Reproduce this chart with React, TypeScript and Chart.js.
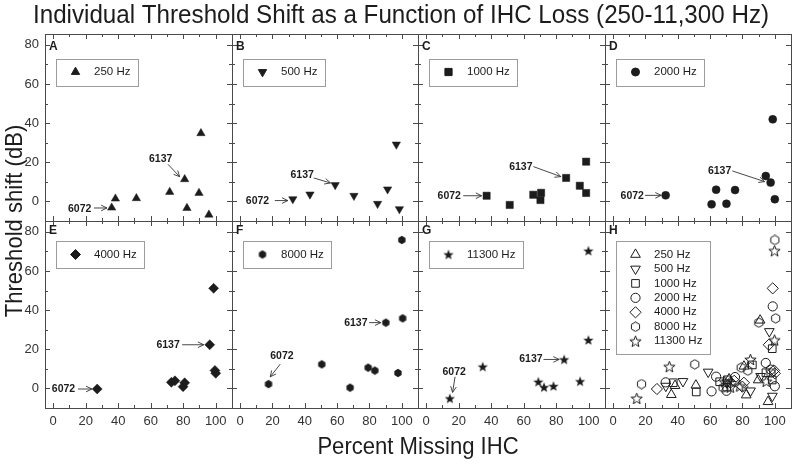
import React, { useEffect, useRef } from 'react';
import { Chart, registerables } from 'chart.js';
import { drawPoint } from 'chart.js/helpers';

Chart.register(...registerables);

// ---------------- data ----------------
const TITLE = 'Individual Threshold Shift as a Function of IHC Loss (250-11,300 Hz)';
const Y_TITLE = 'Threshold shift (dB)';
const X_TITLE = 'Percent Missing IHC';
const X_TICKS = [0, 20, 40, 60, 80, 100];
const Y_TICKS = [0, 20, 40, 60, 80];
const PANEL_LETTERS = ['A', 'B', 'C', 'D', 'E', 'F', 'G', 'H'];
const FREQ_LABELS = ['250 Hz', '500 Hz', '1000 Hz', '2000 Hz', '4000 Hz', '8000 Hz', '11300 Hz'];

const X_250 = [36.0, 38.3, 51.2, 71.7, 80.9, 82.3, 89.7, 90.9, 95.8];
const Y_250 = [-3.2, 1.4, 1.6, 4.8, 11.3, -3.4, 4.3, 34.8, -6.8];
const X_500 = [32.6, 43.2, 58.8, 70.4, 85.0, 91.2, 96.6, 98.5];
const Y_500 = [1.2, 3.6, 8.4, 2.9, -1.2, 6.2, 29.1, -3.9];
const X_1000 = [37.2, 51.4, 65.9, 70.7, 70.3, 86.1, 94.5, 98.4, 98.4];
const Y_1000 = [2.9, -1.8, 3.4, 4.4, 0.7, 12.0, 8.0, 20.3, 4.3];
const X_2000 = [32.5, 60.9, 63.7, 70.1, 75.4, 94.4, 97.4, 98.7, 100];
const Y_2000 = [3.1, -1.5, 6.0, -1.2, 5.8, 13.0, 9.6, 41.9, 1.1];
const X_4000 = [27.1, 72.7, 74.9, 79.9, 80.9, 96.3, 98.7, 99.5, 100];
const Y_4000 = [-0.3, 3.1, 3.9, 0.9, 2.9, 22.3, 51.1, 9.2, 7.7];
const X_8000 = [17.6, 50.5, 68.0, 79.2, 83.3, 97.6, 90.1, 100.5, 100];
const Y_8000 = [2.2, 12.3, 0.4, 10.6, 9.1, 7.9, 33.6, 35.8, 75.8];
const X_11300 = [14.6, 34.8, 69.0, 72.5, 78.3, 84.9, 94.7, 99.8, 99.8];
const Y_11300 = [-5.1, 11.1, 3.4, 0.6, 1.2, 14.8, 3.6, 24.7, 70.3];

// subject annotations: which point of the panel's series they mark
const ANNOTATION_LABELS = ['6072', '6137'];
const ANNOTATION_INDEX = [
  [0, 4],
  [0, 2],
  [0, 5],
  [0, 6],
  [0, 5],
  [0, 6],
  [0, 5],
];

// ---------------- layout / style ----------------
const W = 800;
const H = 464;
const COL_EDGES = [45, 232, 418, 605, 791];
const ROW_EDGES = [34, 221, 408];
const Y_AXIS_W = 40;
const X_AXIS_H = 30;
const X_MIN = -5, X_MAX = 110, Y_MIN = -10, Y_MAX = 85.5;

const FONT = '"Liberation Sans", Arial, Helvetica, sans-serif';
const INK = '#1c1c1c';
const FRAME = '#4a4a4a';
const LEGEND_BORDER = '#9c9c9c';
const TICK_TEXT = '#333';

// annotation geometry in pixel offsets from the marked point: text centre, arrow tail, arrow head
type Off = [number, number];
const ANNOTATION_GEOM: { text: Off; from: Off; to: Off }[][] = [
  [{ text: [-32, 1.6], from: [-17.7, 0.3], to: [-4.7, 0.3] }, { text: [-24, -20.6], from: [-16.7, -15], to: [-5, -2.6] }],
  [{ text: [-35.3, 1.7], from: [-18, 1.5], to: [-5, 1.5] }, { text: [-33, -10.3], from: [-21.4, -7], to: [-4.7, -2] }],
  [{ text: [-37.4, 0], from: [-23.4, 0], to: [-5, 0] }, { text: [-45.3, -11.3], from: [-32.7, -11.3], to: [-5.3, -1.3] }],
  [{ text: [-33.4, 0.4], from: [-20.7, 0], to: [-4.5, 0] }, { text: [-51, -11.7], from: [-38.3, -11.7], to: [-6, -1] }],
  [{ text: [-33.7, 0], from: [-19.3, 0], to: [-5.3, 0] }, { text: [-41.6, 0], from: [-27.6, 0], to: [-6, 0] }],
  [{ text: [13.4, -28.3], from: [11.7, -20], to: [1.7, -7.3] }, { text: [-30, 0], from: [-16.7, 0], to: [-5, 0] }],
  [{ text: [4.3, -26], from: [5.2, -21.6], to: [2.7, -6] }, { text: [-33.3, 0], from: [-20.7, 0], to: [-5, 0] }],
];

type Shapes = { hexF: HTMLCanvasElement; hexO: HTMLCanvasElement; starF: HTMLCanvasElement; starO: HTMLCanvasElement };

function makeShape(kind: 'hex' | 'star', size: number, filled: boolean): HTMLCanvasElement {
  const c = document.createElement('canvas');
  c.width = size;
  c.height = size;
  const g = c.getContext('2d')!;
  const cx = size / 2, cy = size / 2;
  g.beginPath();
  if (kind === 'hex') {
    const r = size / 2 - 0.8;
    for (let i = 0; i < 6; i++) {
      const a = -Math.PI / 2 + (i * Math.PI) / 3;
      const px = cx + r * Math.cos(a), py = cy + r * Math.sin(a);
      if (i) g.lineTo(px, py); else g.moveTo(px, py);
    }
  } else {
    const R = size / 2 - 0.6, r = R * 0.42;
    const oy = cy + R * 0.09;
    for (let i = 0; i < 10; i++) {
      const a = -Math.PI / 2 + (i * Math.PI) / 5;
      const rr = i % 2 ? r : R;
      const px = cx + rr * Math.cos(a), py = oy + rr * Math.sin(a);
      if (i) g.lineTo(px, py); else g.moveTo(px, py);
    }
  }
  g.closePath();
  if (filled) {
    g.fillStyle = INK;
    g.fill();
  } else {
    g.strokeStyle = INK;
    g.lineWidth = 1;
    g.stroke();
  }
  return c;
}

function markerFor(k: number, open: boolean, shapes: Shapes) {
  switch (k) {
    case 0: return { pointStyle: 'triangle', radius: open ? 5.6 : 4.8, rotation: 0 };
    case 1: return { pointStyle: 'triangle', radius: open ? 5.6 : 4.8, rotation: 180 };
    case 2: return { pointStyle: 'rect', radius: open ? 5.4 : 5.1, rotation: 0 };
    case 3: return { pointStyle: 'circle', radius: open ? 4.6 : 4.0, rotation: 0 };
    case 4: return { pointStyle: 'rectRot', radius: open ? 5.6 : 5.0, rotation: 0 };
    case 5: return { pointStyle: open ? shapes.hexO : shapes.hexF, radius: 5, rotation: 0 };
    default: return { pointStyle: open ? shapes.starO : shapes.starF, radius: 6, rotation: 0 };
  }
}

const SERIES_X = [X_250, X_500, X_1000, X_2000, X_4000, X_8000, X_11300];
const SERIES_Y = [Y_250, Y_500, Y_1000, Y_2000, Y_4000, Y_8000, Y_11300];

function seriesPoints(k: number) {
  return SERIES_X[k].map((x, j) => ({ x, y: SERIES_Y[k][j] }));
}

function drawArrow(ctx: CanvasRenderingContext2D, x1: number, y1: number, x2: number, y2: number) {
  ctx.beginPath();
  ctx.moveTo(x1, y1);
  ctx.lineTo(x2, y2);
  const ang = Math.atan2(y2 - y1, x2 - x1);
  const len = 6.5, spread = 0.45;
  ctx.moveTo(x2 - len * Math.cos(ang - spread), y2 - len * Math.sin(ang - spread));
  ctx.lineTo(x2, y2);
  ctx.lineTo(x2 - len * Math.cos(ang + spread), y2 - len * Math.sin(ang + spread));
  ctx.stroke();
}

function drawScaledText(ctx: CanvasRenderingContext2D, text: string, x: number, y: number, sx: number, rot = 0) {
  ctx.save();
  ctx.translate(x, y);
  if (rot) ctx.rotate(rot);
  ctx.scale(sx, 1);
  ctx.fillText(text, 0, 0);
  ctx.restore();
}

function buildConfig(i: number, shapes: Shapes): any {
  const col = i % 4, row = Math.floor(i / 4);
  const L = COL_EDGES[col], R = COL_EDGES[col + 1], T = ROW_EDGES[row], B = ROW_EDGES[row + 1];
  const isAll = i === 7;
  const kinds = isAll ? [0, 1, 2, 3, 4, 5, 6] : [i];
  const yAxisW = col === 0 ? Y_AXIS_W : 0;
  const xAxisH = row === 1 ? X_AXIS_H : 0;

  const datasets = kinds.map((k) => {
    const m = markerFor(k, isAll, shapes);
    return {
      label: FREQ_LABELS[k],
      data: seriesPoints(k),
      showLine: false,
      pointStyle: m.pointStyle,
      pointRadius: m.radius,
      pointRotation: m.rotation,
      pointBackgroundColor: isAll ? 'rgba(0,0,0,0)' : INK,
      pointBorderColor: INK,
      pointBorderWidth: isAll ? 1 : 0.5,
    };
  });

  const decor = {
    id: 'decor' + i,
    afterDraw(chart: any) {
      const ctx: CanvasRenderingContext2D = chart.ctx;
      const { left, right, top, bottom } = chart.chartArea;
      const xs = chart.scales.x, ys = chart.scales.y;
      ctx.save();
      // frame
      ctx.strokeStyle = FRAME;
      ctx.lineWidth = 1;
      ctx.strokeRect(left + 0.5, top + 0.5, right - left, bottom - top);
      // inward ticks (major every 20, minor every 10)
      ctx.beginPath();
      for (let v = 0; v <= 100; v += 10) {
        const px = Math.round(xs.getPixelForValue(v)) + 0.5;
        const len = v % 20 === 0 ? 5 : 3;
        ctx.moveTo(px, bottom); ctx.lineTo(px, bottom - len);
        ctx.moveTo(px, top); ctx.lineTo(px, top + len);
      }
      for (let v = 0; v <= 80; v += 10) {
        const py = Math.round(ys.getPixelForValue(v)) + 0.5;
        const len = v % 20 === 0 ? 5 : 3;
        ctx.moveTo(left, py); ctx.lineTo(left + len, py);
        ctx.moveTo(right, py); ctx.lineTo(right - len, py);
      }
      ctx.stroke();

      // panel letter
      ctx.fillStyle = INK;
      ctx.font = `bold 12px ${FONT}`;
      ctx.textAlign = 'left';
      ctx.textBaseline = 'middle';
      ctx.fillText(PANEL_LETTERS[i], left + 4, top + (row === 0 ? 12.5 : 10));

      // legend box
      const legTop = top + (row === 0 ? 24.5 : 20);
      ctx.font = `11.5px ${FONT}`;
      const maxW = Math.max(...kinds.map((k) => ctx.measureText(FREQ_LABELS[k]).width));
      const rowH = 14.45;
      const boxH = isAll ? 113 : 27;
      const boxL = left + 10.5;
      const textX = left + 49;
      ctx.strokeStyle = LEGEND_BORDER;
      ctx.strokeRect(Math.round(boxL) + 0.5, Math.round(legTop) + 0.5, Math.round(textX + maxW + 7 - boxL), boxH);
      kinds.forEach((k, j) => {
        const cy = isAll ? legTop + 13.5 + j * rowH : legTop + 13.5;
        const m = markerFor(k, isAll, shapes);
        ctx.fillStyle = isAll ? 'rgba(0,0,0,0)' : INK;
        ctx.strokeStyle = INK;
        drawPoint(ctx, { pointStyle: m.pointStyle, radius: m.radius, rotation: m.rotation, borderWidth: isAll ? 1 : 0.5 } as any, left + 30.5, cy);
        ctx.fillStyle = INK;
        ctx.fillText(FREQ_LABELS[k], textX, cy);
      });

      // subject annotations
      if (!isAll) {
        const meta = chart.getDatasetMeta(0);
        ANNOTATION_INDEX[i].forEach((idx, a) => {
          const pt = meta.data[idx];
          const g = ANNOTATION_GEOM[i][a];
          ctx.fillStyle = INK;
          ctx.font = `bold 10.5px ${FONT}`;
          ctx.textAlign = 'center';
          ctx.textBaseline = 'middle';
          ctx.fillText(ANNOTATION_LABELS[a], pt.x + g.text[0], pt.y + g.text[1]);
          ctx.strokeStyle = '#333';
          ctx.lineWidth = 0.9;
          drawArrow(ctx, pt.x + g.from[0], pt.y + g.from[1], pt.x + g.to[0], pt.y + g.to[1]);
        });
      }

      // figure-wide titles, drawn once
      if (i === 0) {
        ctx.fillStyle = INK;
        ctx.textAlign = 'center';
        ctx.textBaseline = 'middle';
        ctx.font = `26px ${FONT}`;
        drawScaledText(ctx, TITLE, 401, 16, 0.93);
        ctx.font = `24px ${FONT}`;
        drawScaledText(ctx, X_TITLE, 418, 447, 0.92);
        drawScaledText(ctx, Y_TITLE, 15, 221, 0.92, -Math.PI / 2);
      }
      ctx.restore();
    },
  };

  return {
    type: 'scatter',
    data: { datasets },
    options: {
      animation: false,
      responsive: false,
      events: [],
      layout: { padding: { left: L - yAxisW, right: W - R, top: T, bottom: H - B - xAxisH } },
      plugins: { legend: { display: false }, tooltip: { enabled: false }, title: { display: false } },
      scales: {
        x: {
          type: 'linear',
          min: X_MIN,
          max: X_MAX,
          grid: { display: false, drawTicks: false },
          border: { display: false },
          ticks: { display: row === 1, autoSkip: false, maxRotation: 0, padding: 6, color: TICK_TEXT, font: { family: FONT, size: 13 } },
          afterBuildTicks: (s: any) => { s.ticks = X_TICKS.map((v) => ({ value: v })); },
          afterFit: (s: any) => { s.height = xAxisH; },
        },
        y: {
          type: 'linear',
          min: Y_MIN,
          max: Y_MAX,
          grid: { display: false, drawTicks: false },
          border: { display: false },
          ticks: { display: col === 0, autoSkip: false, padding: 6, color: TICK_TEXT, font: { family: FONT, size: 13 } },
          afterBuildTicks: (s: any) => { s.ticks = Y_TICKS.map((v) => ({ value: v })); },
          afterFit: (s: any) => { s.width = yAxisW; },
        },
      },
    },
    plugins: [decor],
  };
}

export default function App() {
  const refs = useRef<(HTMLCanvasElement | null)[]>([]);
  useEffect(() => {
    const shapes: Shapes = {
      hexF: makeShape('hex', 10, true),
      hexO: makeShape('hex', 11, false),
      starF: makeShape('star', 12, true),
      starO: makeShape('star', 13, false),
    };
    const charts = PANEL_LETTERS.map((_, i) => new Chart(refs.current[i]!, buildConfig(i, shapes)));
    return () => charts.forEach((c) => c.destroy());
  }, []);
  return (
    <div style={{ position: 'absolute', left: 0, top: 0, width: W, height: H, background: '#fff' }}>
      {PANEL_LETTERS.map((_, i) => (
        <canvas
          key={i}
          ref={(el) => { refs.current[i] = el; }}
          width={W}
          height={H}
          style={{ position: 'absolute', left: 0, top: 0 }}
        />
      ))}
    </div>
  );
}
